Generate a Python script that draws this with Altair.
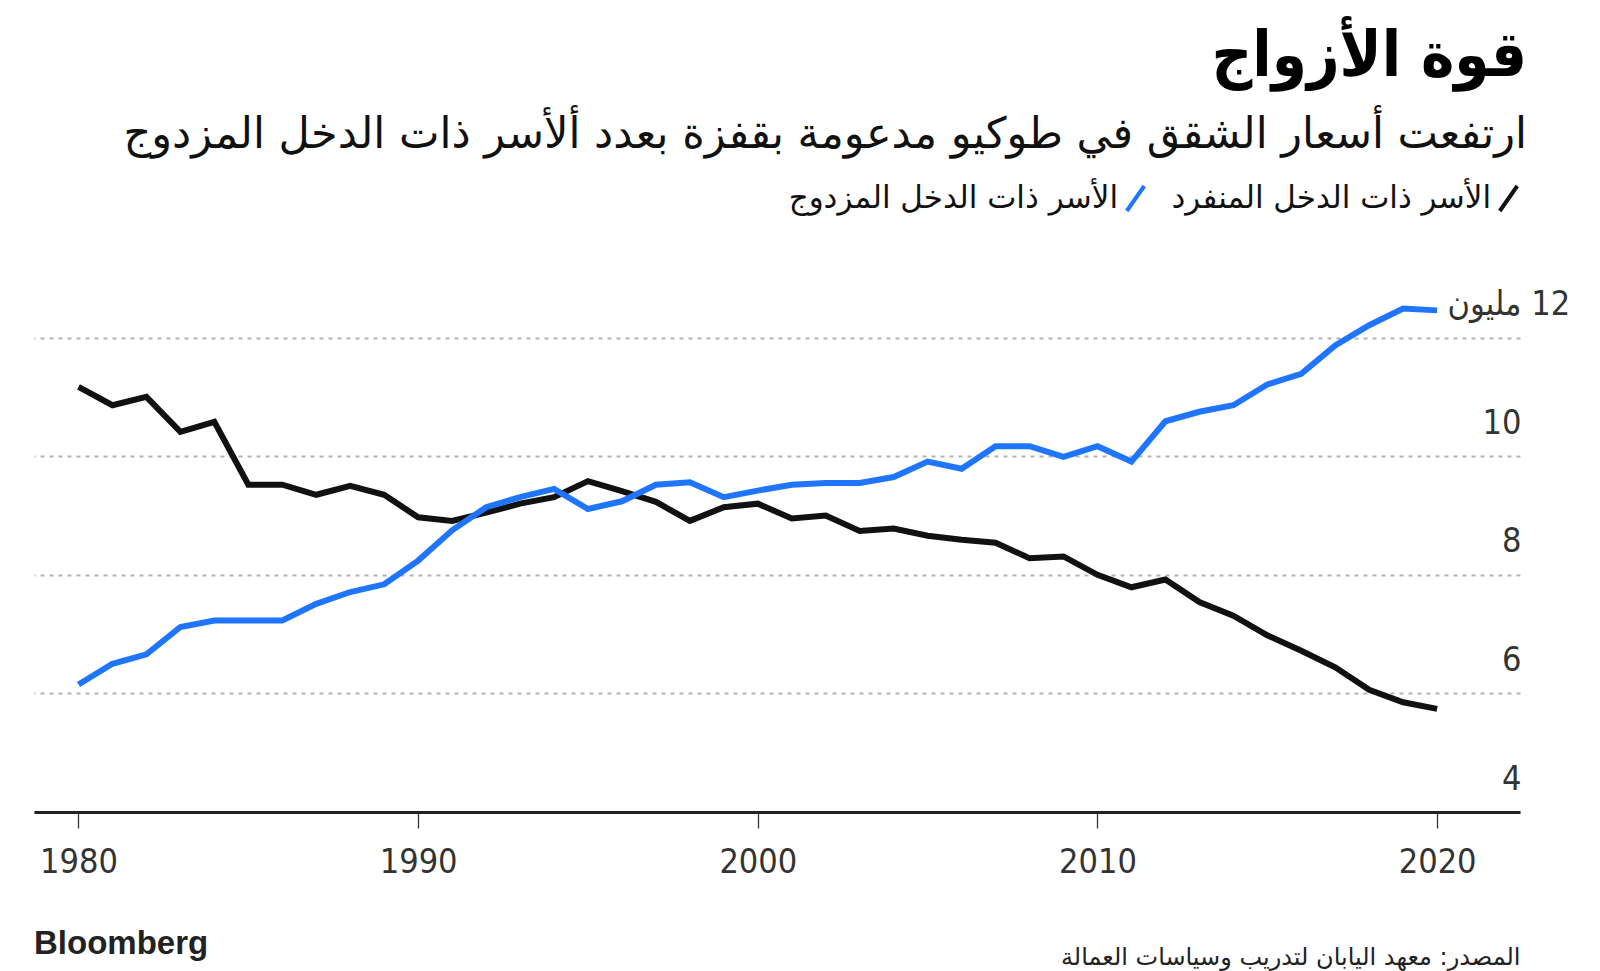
import altair as alt
import pandas as pd

# ---------------- data ----------------
years = list(range(1980, 2021))
single_income = [11.17, 10.86, 11.00, 10.41, 10.58, 9.52, 9.52, 9.35, 9.50, 9.35,
                 8.97, 8.91, 9.05, 9.20, 9.31, 9.58, 9.41, 9.23, 8.91, 9.14,
                 9.20, 8.95, 9.00, 8.74, 8.78, 8.66, 8.59, 8.54, 8.28, 8.31,
                 8.00, 7.79, 7.92, 7.54, 7.31, 6.98, 6.72, 6.44, 6.06, 5.85, 5.74]
dual_income = [6.15, 6.50, 6.66, 7.12, 7.23, 7.23, 7.23, 7.51, 7.71, 7.84,
               8.24, 8.75, 9.14, 9.31, 9.45, 9.11, 9.24, 9.52, 9.56, 9.31,
               9.42, 9.52, 9.55, 9.55, 9.65, 9.91, 9.79, 10.17, 10.17, 9.99,
               10.17, 9.91, 10.59, 10.75, 10.86, 11.21, 11.39, 11.87, 12.21, 12.49, 12.46]
SINGLE = "الأسر ذات الدخل المنفرد"
DUAL = "الأسر ذات الدخل المزدوج"
series_order = [DUAL, SINGLE]
series_colors = ["#1F75FE", "#111111"]
x_ticks = [1980, 1990, 2000, 2010, 2020]
y_ticks = [4, 6, 8, 10, 12]
unit_label = "مليون\u200e 12"

TITLE = "قوة الأزواج"
SUBTITLE = "ارتفعت أسعار الشقق في طوكيو مدعومة بقفزة بعدد ألأسر ذات الدخل المزدوج"
SOURCE = "المصدر: معهد اليابان لتدريب وسياسات العمالة"
BRAND = "Bloomberg"

AR = "DejaVu Sans Condensed"
AR_WIDE = "DejaVu Sans"
NUM = "Liberation Sans Narrow, DejaVu Sans Condensed, sans-serif"

df = pd.DataFrame({
    "year": years * 2,
    "value": single_income + dual_income,
    "series": [SINGLE] * len(years) + [DUAL] * len(years),
})

W, H = 1486, 504

color = alt.Color(
    "series:N",
    scale=alt.Scale(domain=series_order, range=series_colors),
    legend=alt.Legend(
        title=None, orient="none", direction="horizontal",
        legendX=1086, legendY=-125,
        symbolType="M-0.7,1L0.7,-1", symbolSize=625, symbolStrokeWidth=4,
        labelAlign="right", labelOffset=alt.ExprRef(expr="-33"), labelFont=AR_WIDE, labelFontSize=31,
        labelColor="#111", labelLimit=800, columnPadding=18, padding=0,
    ),
)

x = alt.X(
    "year:Q",
    scale=alt.Scale(domain=[1978.69, 2022.44], nice=False, zero=False),
    axis=alt.Axis(
        values=x_ticks, format="d", grid=False,
        domainColor="#222", domainWidth=3,
        tickColor="#333", tickSize=16, tickWidth=1.3,
        labelFont=NUM, labelFontSize=34, labelColor="#333", labelPadding=17,
        labelFlush=False, labelOverlap=False,
        title=SOURCE, titleAnchor="end", titleAlign="right",
        titleFont=AR_WIDE, titleFontSize=24, titleFontWeight="normal", titleColor="#222",
        titlePadding=85, titleBaseline="alphabetic",
    ),
)

y = alt.Y(
    "value:Q",
    scale=alt.Scale(domain=[4, 12.5], nice=False, zero=False),
    axis=alt.Axis(
        orient="right", values=y_ticks, domain=False, ticks=False, tickSize=0,
        grid=True, gridColor="#b3b3b3", gridDash=[4, 5], gridWidth=2,
        labelExpr="datum.value == 12 ? '" + unit_label + "' : datum.label",
        labelAlign={"condition": {"test": "datum.value == 12", "value": "left"}, "value": "right"},
        labelPadding={"condition": {"test": "datum.value == 12", "value": -73}, "value": 1},
        labelBaseline="alphabetic", labelOffset=-23,
        labelFont=NUM, labelFontSize=34, labelColor="#333",
        labelFlush=False, labelOverlap=False, title=None,
    ),
)

base = alt.Chart(df)
black_line = base.transform_filter(alt.datum.series == SINGLE).mark_line(strokeWidth=6).encode(x=x, y=y, color=color)
blue_line = base.transform_filter(alt.datum.series == DUAL).mark_line(strokeWidth=6).encode(x=x, y=y, color=color)

brand = alt.Chart(pd.DataFrame({"t": [BRAND]})).mark_text(
    align="left", baseline="alphabetic", font="Liberation Sans", fontWeight="bold",
    fontSize=33, color="#222"
).encode(text="t:N", x=alt.value(0), y=alt.value(H + 142))

chart = alt.layer(black_line, blue_line, brand).properties(
    width=W, height=H,
    background="white",
    padding={"left": 26, "top": 18, "right": 5, "bottom": 5},
    title=alt.TitleParams(
        text=TITLE, subtitle=SUBTITLE, anchor="end", frame="group",
        font=AR, fontSize=63, fontWeight="bold", color="#000",
        subtitleFont=AR_WIDE, subtitleFontSize=43, subtitleColor="#111",
        subtitlePadding=25, offset=26, dx=7,
    ),
).configure_view(stroke=None)

chart.save("out.html", embed_options={"renderer": "svg", "actions": False})
